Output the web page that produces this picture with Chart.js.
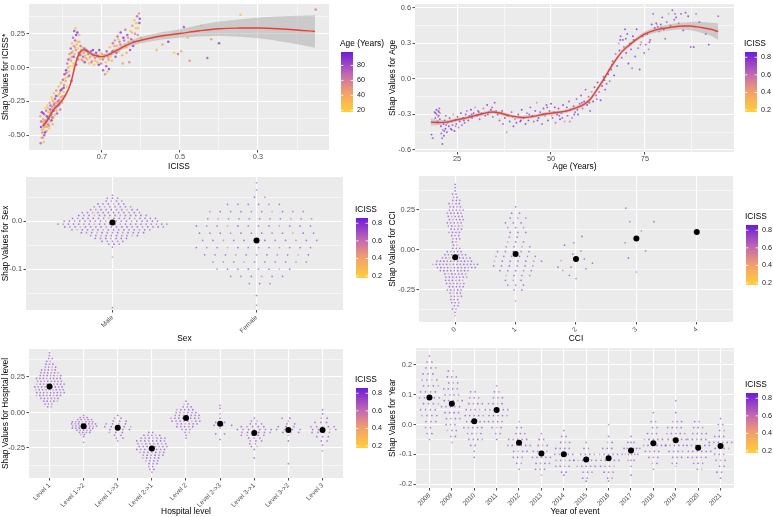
<!DOCTYPE html>
<html>
<head>
<meta charset="utf-8">
<script src="https://cdn.jsdelivr.net/npm/chart.js@4.4.1/dist/chart.umd.min.js"></script>
<style>
  body { margin: 0; background: #fff; width: 773px; height: 517px; position: relative; overflow: hidden; }
  canvas { position: absolute; }
</style>
</head>
<body>
<canvas id="pIciss" width="386" height="172" style="left:0;top:0"></canvas>
<canvas id="pAge" width="386" height="172" style="left:387px;top:0"></canvas>
<canvas id="pSex" width="386" height="172" style="left:0;top:172px"></canvas>
<canvas id="pCci" width="386" height="172" style="left:387px;top:172px"></canvas>
<canvas id="pHosp" width="386" height="173" style="left:0;top:344px"></canvas>
<canvas id="pYear" width="386" height="173" style="left:387px;top:344px"></canvas>
<script>
// ---- data ----
// panel 1: ICISS vs shap, coloured by age
const icissPoints = [
  [0.857,-0.56],[0.855,-0.52],[0.853,-0.48],[0.856,-0.44],[0.852,-0.40],[0.858,-0.36],[0.854,-0.33],[0.850,-0.46],
  [0.849,-0.42],[0.851,-0.38],[0.848,-0.50],[0.846,-0.44],[0.847,-0.35],[0.845,-0.30],[0.843,-0.40],[0.842,-0.47],
  [0.841,-0.36],[0.840,-0.28],[0.838,-0.42],[0.837,-0.33],[0.836,-0.38],[0.835,-0.45],[0.834,-0.26],[0.833,-0.31],
  [0.832,-0.40],[0.830,-0.35],[0.829,-0.22],[0.828,-0.29],[0.827,-0.37],[0.826,-0.42],[0.825,-0.25],[0.824,-0.32],
  [0.823,-0.19],[0.822,-0.28],[0.821,-0.35],[0.820,-0.23],[0.818,-0.30],[0.817,-0.17],[0.816,-0.26],[0.815,-0.34],
  [0.814,-0.21],[0.812,-0.28],[0.811,-0.14],[0.810,-0.24],[0.808,-0.19],[0.807,-0.31],[0.806,-0.12],[0.805,-0.22],
  [0.803,-0.16],[0.802,-0.26],[0.800,-0.09],[0.799,-0.18],[0.797,-0.13],[0.796,-0.05],[0.795,-0.21],[0.793,-0.10],
  [0.792,-0.02],[0.790,-0.14],[0.789,0.03],[0.788,-0.07],[0.786,0.06],[0.785,-0.03],[0.783,0.10],[0.782,0.01],
  [0.780,0.14],[0.779,0.05],[0.778,-0.10],[0.777,0.18],[0.776,0.08],[0.775,0.12],[0.774,0.22],[0.773,0.03],
  [0.772,0.16],[0.771,0.27],[0.770,0.10],[0.769,0.20],[0.768,0.29],[0.767,0.13],[0.766,0.24],[0.765,0.17],
  [0.764,0.07],[0.763,0.26],[0.762,0.14],[0.760,0.11],[0.758,0.19],[0.756,0.09],[0.754,0.13],[0.752,0.06],
  [0.750,0.15],[0.748,0.08],[0.746,0.11],[0.744,0.04],[0.742,0.09],[0.740,0.13],[0.738,0.06],[0.735,0.10],
  [0.733,0.03],[0.730,0.08],[0.728,0.12],[0.725,0.05],[0.722,0.09],[0.720,0.02],[0.718,0.07],[0.715,0.11],
  [0.712,0.04],[0.710,0.08],[0.707,0.13],[0.705,0.06],[0.702,0.03],[0.700,0.10],[0.697,-0.02],[0.695,0.07],
  [0.692,-0.05],[0.690,0.04],[0.688,0.12],[0.685,0.08],[0.682,-0.01],[0.680,0.15],[0.677,0.10],[0.675,0.05],
  [0.672,0.18],[0.670,0.13],[0.667,0.20],[0.665,0.08],[0.662,0.16],[0.660,0.23],[0.657,0.12],[0.655,0.19],
  [0.652,0.26],[0.650,0.15],[0.647,0.03],[0.645,0.22],[0.642,0.17],[0.640,0.28],[0.637,0.11],[0.635,0.24],
  [0.632,0.19],[0.630,0.04],[0.627,0.27],[0.625,0.21],[0.622,0.31],[0.620,0.16],[0.617,0.35],[0.615,0.25],
  [0.612,0.33],[0.610,0.38],[0.607,0.29],[0.605,0.40],[0.603,0.36],[0.600,0.22],
  [0.856,-0.40],[0.854,-0.46],[0.852,-0.52],[0.850,-0.34],[0.849,-0.55],[0.847,-0.39],[0.846,-0.48],[0.844,-0.43],
  [0.843,-0.32],[0.841,-0.44],[0.839,-0.37],[0.838,-0.30],[0.836,-0.43],[0.834,-0.36],[0.832,-0.28],[0.831,-0.33],
  [0.829,-0.39],[0.827,-0.24],[0.826,-0.31],[0.824,-0.37],[0.823,-0.27],[0.821,-0.30],[0.819,-0.26],[0.818,-0.21],
  [0.816,-0.32],[0.813,-0.25],[0.811,-0.20],[0.809,-0.27],[0.806,-0.17],[0.804,-0.11],[0.801,-0.21],[0.798,-0.15],
  [0.795,-0.08],[0.791,-0.04],[0.787,0.00],[0.784,-0.06],[0.781,0.07],[0.778,0.11],[0.775,0.01],[0.772,0.08],
  [0.769,0.15],[0.766,0.02],[0.763,0.19],[0.761,0.06],[0.758,0.24],[0.755,0.16],[0.752,0.10],[0.749,0.05],
  [0.745,0.14],[0.741,0.07],[0.737,0.12],[0.732,0.07],[0.727,0.04],[0.723,0.13],[0.717,0.05],[0.713,0.09],
  [0.708,0.02],[0.703,0.11],[0.698,0.06],[0.694,0.09],[0.689,0.01],[0.686,-0.03],[0.683,0.06],[0.678,0.08],
  [0.673,0.12],[0.668,0.16],[0.663,0.11],[0.658,0.21],[0.653,0.17],[0.648,0.09],[0.643,0.20],[0.638,0.15],
  [0.633,0.22],[0.628,0.13],[0.623,0.26],[0.618,0.19],[0.613,0.29],[0.608,0.24],[0.604,0.33],
  [0.560,0.13],[0.545,0.17],[0.530,0.19],[0.515,0.11],[0.505,0.10],[0.497,0.12],[0.490,0.30],[0.480,0.22],
  [0.475,0.05],[0.445,0.31],[0.430,0.07],[0.420,0.21],[0.400,0.18],[0.345,0.39],[0.152,0.43]
];
const ageCycle = [72, 25, 58, 88, 34, 45, 91, 22, 66, 40, 80, 30, 55, 19, 77, 48, 85, 27, 62, 36, 70, 24, 52, 83, 41];
const icissFitX = [0.852,0.84,0.825,0.81,0.799,0.79,0.782,0.775,0.769,0.762,0.756,0.75,0.744,0.735,0.726,0.715,
  0.705,0.695,0.68,0.66,0.64,0.62,0.58,0.54,0.50,0.45,0.40,0.35,0.30,0.25,0.20,0.154];
const icissFitY = [-0.434,-0.39,-0.316,-0.27,-0.23,-0.185,-0.132,-0.06,0.015,0.08,0.113,0.128,0.13,0.117,0.10,0.088,
  0.081,0.083,0.10,0.13,0.16,0.186,0.215,0.237,0.252,0.272,0.287,0.292,0.292,0.287,0.278,0.267];
const icissFitSe = [0.03,0.025,0.02,0.018,0.018,0.018,0.02,0.022,0.022,0.02,0.018,0.016,0.015,0.015,0.015,0.015,
  0.015,0.015,0.016,0.018,0.02,0.022,0.025,0.028,0.032,0.042,0.053,0.064,0.076,0.09,0.105,0.12];

// panel 2: age vs shap, coloured by ICISS
const agePoints = [
  [18.2,-0.47],[18.5,-0.50],[19.0,-0.28],[19.2,-0.33],[19.5,-0.26],[19.6,-0.30],[19.8,-0.36],[20.0,-0.27],
  [20.1,-0.31],[20.3,-0.25],[20.4,-0.34],[20.5,-0.29],[20.7,-0.40],[20.8,-0.46],[21.0,-0.50],[21.1,-0.55],
  [21.2,-0.43],[21.4,-0.38],[21.5,-0.48],[21.7,-0.35],[21.9,-0.42],[22.0,-0.31],[22.3,-0.45],[22.5,-0.37],
  [22.8,-0.40],[23.0,-0.33],[23.3,-0.42],[23.5,-0.36],[23.8,-0.39],[24.0,-0.30],[24.3,-0.44],[24.5,-0.35],
  [24.8,-0.38],[25.1,-0.32],[25.4,-0.41],[25.7,-0.36],[26.0,-0.29],[26.3,-0.39],[26.6,-0.33],[27.0,-0.37],
  [27.3,-0.30],[27.6,-0.27],[28.0,-0.35],[28.3,-0.31],[28.7,-0.26],[29.0,-0.33],[29.4,-0.29],[29.8,-0.24],
  [30.2,-0.31],[30.6,-0.27],[31.0,-0.34],[31.5,-0.29],[32.0,-0.25],[32.5,-0.31],[33.0,-0.22],[33.5,-0.28],
  [34.0,-0.26],[34.5,-0.32],[35.0,-0.20],[35.4,-0.27],[35.8,-0.30],[36.3,-0.35],[36.8,-0.29],[37.2,-0.38],
  [37.7,-0.33],[38.2,-0.45],[38.6,-0.31],[39.0,-0.36],[39.5,-0.28],[40.0,-0.40],[40.4,-0.34],[40.8,-0.37],
  [41.3,-0.30],[41.8,-0.36],[42.2,-0.26],[42.7,-0.33],[43.2,-0.38],[43.6,-0.29],[44.0,-0.35],[44.5,-0.24],
  [45.0,-0.31],[45.4,-0.36],[45.8,-0.27],[46.2,-0.20],[46.7,-0.33],[47.1,-0.28],[47.6,-0.38],[48.0,-0.25],
  [48.4,-0.31],[48.8,-0.22],[49.2,-0.35],[49.6,-0.27],[50.0,-0.21],[50.4,-0.33],[50.8,-0.28],[51.2,-0.37],
  [51.6,-0.30],[52.0,-0.25],[52.4,-0.34],[52.8,-0.29],[53.2,-0.22],[53.6,-0.36],[54.0,-0.27],[54.4,-0.31],
  [54.8,-0.19],[55.2,-0.26],[55.6,-0.33],[56.0,-0.23],[56.4,-0.28],[56.8,-0.17],[57.2,-0.30],[57.6,-0.21],
  [58.0,-0.14],[58.4,-0.25],[58.8,-0.19],[59.2,-0.09],[59.6,-0.22],[60.0,-0.15],[60.4,-0.27],[60.8,-0.11],
  [61.2,-0.19],[61.6,-0.07],[62.0,-0.14],[62.4,-0.03],[62.8,-0.11],[63.2,-0.18],[63.6,-0.06],[64.0,0.02],
  [64.4,-0.09],[64.8,-0.04],[65.2,0.04],[65.6,-0.02],[66.0,0.08],[66.4,0.15],[66.8,0.03],[67.2,0.21],
  [67.6,0.11],[68.0,0.30],[68.2,0.24],[68.5,0.36],[68.8,0.18],[69.1,0.33],[69.4,0.27],[69.7,0.42],
  [70.0,0.22],[70.3,0.38],[70.6,0.13],[71.0,0.30],[71.3,0.25],[71.6,0.09],[72.0,0.33],[72.4,0.19],
  [72.8,0.42],[73.2,0.26],[73.6,0.08],[74.0,0.31],[74.4,0.36],[74.8,0.22],[75.2,0.29],[75.6,0.38],
  [76.0,0.25],[76.4,0.33],[76.8,0.46],[77.2,0.55],[77.6,0.43],[78.0,0.47],[78.4,0.44],[78.8,0.40],
  [79.2,0.46],[79.6,0.52],[80.0,0.42],[80.4,0.34],[80.8,0.48],[81.3,0.55],[81.8,0.45],[82.3,0.58],
  [82.8,0.50],[83.3,0.52],[84.0,0.47],[84.6,0.55],[85.2,0.41],[85.8,0.56],[86.5,0.53],[87.2,0.27],
  [88.0,0.27],[88.6,0.55],[89.5,0.48],[91.2,0.38],[92.0,0.29],[94.5,0.53],
  [19.3,-0.29],[19.9,-0.32],[20.2,-0.28],[21.6,-0.44],[22.1,-0.39],[23.6,-0.43],[24.6,-0.40],[26.8,-0.35],
  [28.9,-0.30],[30.8,-0.28],[33.2,-0.30],[34.3,-0.24],[37.0,-0.27],[39.8,-0.32],[42.0,-0.35],[44.2,-0.30],
  [46.4,-0.35],[47.8,-0.30],[49.0,-0.24],[50.2,-0.31],[51.0,-0.24],[52.2,-0.31],[53.0,-0.33],[54.2,-0.24],
  [55.0,-0.36],[56.2,-0.30],[57.0,-0.26],[58.2,-0.20],[60.2,-0.20],[62.2,-0.17],[64.2,-0.01],[66.2,0.12],
  [68.4,0.33],[69.9,0.34],[71.8,0.36],[73.8,0.29],[76.2,0.31],[78.2,0.46],[79.4,0.43],[83.0,0.55]
];
const icissCycle = [0.82, 0.79, 0.85, 0.74, 0.81, 0.66, 0.83, 0.77, 0.86, 0.71, 0.8, 0.52, 0.84, 0.78, 0.75, 0.83, 0.62, 0.8];
const ageFitX = [18,20,22,25,28,31,34,36,39,42,45,48,51,54,57,59,60.5,62,63.5,65,67,69,71,73,75,78,81,84,87,90,92.5,94.5];
const ageFitY = [-0.365,-0.368,-0.365,-0.345,-0.325,-0.30,-0.28,-0.285,-0.31,-0.325,-0.318,-0.298,-0.285,-0.272,
  -0.24,-0.21,-0.17,-0.10,-0.03,0.05,0.15,0.235,0.29,0.34,0.38,0.415,0.432,0.445,0.447,0.435,0.42,0.40];
const ageFitSe = [0.03,0.022,0.018,0.015,0.015,0.015,0.015,0.015,0.015,0.015,0.015,0.015,0.015,0.015,0.016,0.017,
  0.018,0.018,0.018,0.018,0.018,0.018,0.018,0.018,0.02,0.022,0.025,0.028,0.035,0.045,0.055,0.07];

// panel 3: sex  (rows: [shap value, number of points])
const sexLabels = ['Male', 'Female'];
const sexRows = [
  [[0.054,1],[0.048,3],[0.042,4],[0.036,6],[0.030,8],[0.024,10],[0.018,12],[0.012,14],[0.006,17],[0.000,19],
   [-0.006,22],[-0.012,20],[-0.018,16],[-0.024,13],[-0.030,10],[-0.036,7],[-0.042,5],[-0.048,3],[-0.054,1],[-0.075,1],[-0.18,1]],
  [[0.08,1],[0.065,1],[0.05,2],[0.035,6],[0.02,10],[0.005,11],[-0.01,12],[-0.025,12],[-0.04,12],[-0.055,12],[-0.07,11],
   [-0.085,10],[-0.10,8],[-0.115,6],[-0.13,3],[-0.155,1],[-0.175,1]]
];
const sexSpacing = [0.036, 0.072];
const sexMeans = [-0.003, -0.04];

// panel 4: CCI
const cciLabels = ['0', '1', '2', '3', '4'];
const cciRows = [
  [[0.41,1],[0.39,1],[0.37,1],[0.35,2],[0.33,2],[0.31,3],[0.29,4],[0.27,4],[0.25,5],[0.23,5],[0.21,5],[0.19,5],[0.17,5],
   [0.15,5],[0.13,4],[0.11,4],[0.09,3],[0.07,3],[0.05,2],[0.03,2],[0.01,3],[-0.01,5],[-0.03,7],[-0.05,9],[-0.07,11],
   [-0.09,14],[-0.11,12],[-0.13,9],[-0.15,7],[-0.17,7],[-0.19,6],[-0.21,6],[-0.23,5],[-0.25,5],[-0.27,4],[-0.29,4],
   [-0.31,3],[-0.33,3],[-0.35,2],[-0.37,2],[-0.39,1],[-0.41,1]],
  [[0.27,1],[0.23,2],[0.20,3],[0.17,3],[0.14,3],[0.11,3],[0.08,2],[0.05,3],[0.02,4],[-0.01,5],[-0.04,6],[-0.07,7],
   [-0.10,6],[-0.13,5],[-0.16,4],[-0.19,3],[-0.22,3],[-0.25,2],[-0.32,1]],
  [], [], []
];
const cciSpacing = [0.057, 0.13, 0, 0, 0];
// sparse groups: [category, jitter, shap]
const cciSparse = [
  [2,0.098,0.085],[2,-0.038,0.045],[2,-0.19,0.03],[2,0.082,-0.006],[2,-0.055,-0.026],[2,-0.246,-0.067],[2,0.137,-0.057],
  [2,0.273,-0.083],[2,-0.082,-0.108],[2,-0.30,-0.108],[2,-0.219,-0.128],[2,0.164,-0.118],[2,-0.109,-0.159],[2,0,-0.179],
  [3,-0.175,0.262],[3,-0.109,0.177],[3,0.29,0.177],[3,0.082,0.12],[3,-0.186,0.045],[3,0.153,-0.006],[3,-0.131,-0.05],[3,0,-0.138],
  [4,0,0.11]
];
const cciMeans = [-0.045, -0.025, -0.057, 0.071, 0.112];

// panel 5: hospital level
const hospLabels = ['Level 1', 'Level 1->2', 'Level 1->3', 'Level 2->1', 'Level 2', 'Level 2->3', 'Level 3->1', 'Level 3->2', 'Level 3'];
const hospRows = [
  [[0.42,1],[0.40,1],[0.38,2],[0.36,2],[0.34,3],[0.32,4],[0.30,5],[0.28,6],[0.26,7],[0.24,8],[0.22,8],[0.20,9],[0.18,9],
   [0.16,9],[0.14,9],[0.12,8],[0.10,6],[0.08,5],[0.06,3],[0.04,2]],
  [[-0.02,1],[-0.035,3],[-0.05,5],[-0.065,7],[-0.08,8],[-0.095,8],[-0.11,7],[-0.125,5],[-0.14,4],[-0.155,2],[-0.17,1],[-0.21,1]],
  [[-0.02,1],[-0.04,2],[-0.06,3],[-0.08,4],[-0.10,5],[-0.12,4],[-0.14,3],[-0.16,2],[-0.18,2],[-0.20,1]],
  [[-0.14,2],[-0.16,5],[-0.18,7],[-0.20,8],[-0.22,8],[-0.24,8],[-0.26,8],[-0.28,7],[-0.30,6],[-0.32,5],[-0.34,4],[-0.36,3],
   [-0.38,2],[-0.40,2],[-0.42,1]],
  [[0.08,1],[0.06,2],[0.04,3],[0.02,5],[0.00,6],[-0.02,7],[-0.04,8],[-0.06,8],[-0.08,6],[-0.10,5],[-0.12,3],[-0.14,2],[-0.16,1],[-0.18,1]],
  [[0.05,1],[0.03,1],[-0.01,1],[-0.04,1],[-0.07,2],[-0.09,3],[-0.11,1],[-0.15,2],[-0.19,1]],
  [[-0.04,1],[-0.06,2],[-0.08,3],[-0.10,5],[-0.12,7],[-0.14,6],[-0.16,5],[-0.18,3],[-0.20,3],[-0.22,2],[-0.24,2],[-0.26,1],[-0.32,1]],
  [[-0.04,2],[-0.06,1],[-0.08,2],[-0.10,3],[-0.12,4],[-0.14,3],[-0.16,1],[-0.20,1],[-0.36,1]],
  [[0.02,1],[-0.01,1],[-0.04,2],[-0.07,3],[-0.10,5],[-0.12,5],[-0.14,4],[-0.17,3],[-0.20,2],[-0.23,1],[-0.27,1]]
];
const hospSpacing = [0.1, 0.1, 0.19, 0.116, 0.116, 0.26, 0.165, 0.23, 0.17];
const hospMeans = [0.183, -0.096, -0.108, -0.254, -0.038, -0.08, -0.145, -0.124, -0.124];

// panel 6: year of event
const yearLabels = ['2008','2009','2010','2011','2012','2013','2014','2015','2016','2017','2018','2019','2020','2021'];
const yearRows = [
  [[0.23,1],[0.21,2],[0.19,3],[0.17,3],[0.15,4],[0.13,4],[0.11,4],[0.09,5],[0.07,4],[0.05,4],[0.03,4],[0.01,3],[-0.01,2],[-0.03,2],[-0.05,1]],
  [[0.18,2],[0.16,3],[0.14,3],[0.12,4],[0.10,4],[0.08,5],[0.06,5],[0.04,4],[0.02,4],[0.00,3],[-0.02,3],[-0.04,2],[-0.06,1]],
  [[0.11,2],[0.09,3],[0.07,4],[0.05,4],[0.03,5],[0.01,5],[-0.01,5],[-0.03,4],[-0.05,4],[-0.07,2],[-0.09,1],[-0.11,1]],
  [[0.13,1],[0.11,2],[0.09,3],[0.07,4],[0.05,6],[0.03,5],[0.01,4],[-0.01,3],[-0.03,2],[-0.05,1]],
  [[0.01,1],[-0.01,2],[-0.03,3],[-0.05,5],[-0.07,6],[-0.09,4],[-0.11,3],[-0.13,2],[-0.15,1]],
  [[-0.03,1],[-0.05,2],[-0.07,3],[-0.09,4],[-0.11,5],[-0.13,4],[-0.15,3],[-0.17,1]],
  [[-0.02,1],[-0.04,2],[-0.06,3],[-0.08,4],[-0.10,5],[-0.12,5],[-0.14,4],[-0.16,2],[-0.17,1]],
  [[-0.06,1],[-0.08,2],[-0.10,4],[-0.12,6],[-0.14,5],[-0.16,3],[-0.18,2],[-0.19,1]],
  [[0.00,1],[-0.04,1],[-0.06,2],[-0.08,3],[-0.10,5],[-0.12,5],[-0.14,4],[-0.16,3],[-0.18,2],[-0.19,1]],
  [[-0.04,1],[-0.06,3],[-0.08,6],[-0.10,6],[-0.12,3],[-0.14,1],[-0.17,1]],
  [[0.04,1],[0.01,2],[-0.01,2],[-0.03,3],[-0.05,5],[-0.07,6],[-0.09,4],[-0.11,3],[-0.13,2],[-0.15,1]],
  [[0.08,1],[0.04,1],[0.01,3],[-0.01,4],[-0.03,5],[-0.05,5],[-0.07,5],[-0.09,4],[-0.11,3],[-0.13,2],[-0.14,1]],
  [[0.01,2],[-0.01,3],[-0.03,4],[-0.05,5],[-0.07,6],[-0.09,6],[-0.11,5],[-0.13,3],[-0.15,2]],
  [[0.02,1],[0.00,2],[-0.02,2],[-0.04,3],[-0.06,6],[-0.08,4],[-0.10,3],[-0.12,3],[-0.14,2],[-0.16,2],[-0.18,1]]
];
const yearSpacing = [0.22, 0.2, 0.2, 0.2, 0.2, 0.2, 0.2, 0.2, 0.2, 0.14, 0.2, 0.2, 0.2, 0.2];
const yearMeans = [0.091, 0.07, 0.011, 0.049, -0.061, -0.097, -0.1, -0.117, -0.113, -0.087, -0.063, -0.053, -0.078, -0.072];

// ---- helpers ----
const FAMILY = '"Liberation Sans", Arial, Helvetica, sans-serif';
Chart.defaults.font.family = FAMILY;
const TITLE_SIZE = 8.4;

const gradStops = [[0, [255, 207, 58]], [0.33, [242, 160, 106]], [0.62, [196, 106, 176]], [1, [108, 28, 217]]];
function gradColor(t, a) {
  t = Math.max(0, Math.min(1, t));
  for (let i = 1; i < gradStops.length; i++) {
    const [t1, c1] = gradStops[i];
    const [t0, c0] = gradStops[i - 1];
    if (t <= t1) {
      const f = (t - t0) / (t1 - t0);
      const c = c0.map((v, k) => Math.round(v + (c1[k] - v) * f));
      return `rgba(${c[0]},${c[1]},${c[2]},${a})`;
    }
  }
  return `rgba(108,28,217,${a})`;
}

function near(v, step) {
  const q = v / step;
  return Math.abs(q - Math.round(q)) < 1e-6;
}

function axis(o) {
  const horiz = o.pos === 'x';
  const off = o.offset || 0;
  const isMajor = v => near(v - off, o.major);
  const major = c => !!c.tick && isMajor(c.tick.value);
  return {
    type: 'linear',
    position: horiz ? 'bottom' : 'left',
    min: o.min, max: o.max, reverse: !!o.reverse,
    ticks: {
      stepSize: o.minor, includeBounds: false, autoSkip: false,
      maxRotation: o.rot || 0, minRotation: o.rot || 0,
      color: '#4D4D4D', font: { size: o.rot ? 6.6 : 7.4 }, padding: o.rot ? 1 : (horiz ? 0.5 : 1.5),
      callback: o.labels
        ? (v => o.labels[Math.round(v)] || '')
        : (v => isMajor(v) ? (Math.round(v * 1e6) / 1e6).toFixed(o.dec) : '')
    },
    grid: {
      color: '#FFFFFF',
      lineWidth: c => major(c) ? 1.1 : 0.55,
      tickLength: 2.5, tickWidth: 0.9,
      tickColor: c => major(c) ? '#333333' : 'rgba(0,0,0,0)'
    },
    border: { display: false },
    title: { display: true, text: o.title, color: '#000', font: { size: TITLE_SIZE }, padding: horiz ? { top: 0, bottom: 0.6 } : { top: 1, bottom: 0 } },
    afterFit: s => {
      if (horiz) s.height = o.size; else s.width = o.size;
      s.paddingLeft = s.paddingRight = s.paddingTop = s.paddingBottom = 0;
    }
  };
}

const panelBg = {
  id: 'panelBg',
  beforeDraw(chart) {
    const { ctx, chartArea: a } = chart;
    ctx.save();
    ctx.fillStyle = '#EBEBEB';
    ctx.fillRect(a.left, a.top, a.width, a.height);
    ctx.restore();
  }
};

// ggplot style colour bar at the right of each panel
const colorbar = {
  id: 'colorbar',
  afterDraw(chart, args, o) {
    if (!o || !o.title) return;
    const ctx = chart.ctx;
    const w = 12, h = 60;
    ctx.save();
    ctx.font = TITLE_SIZE + 'px ' + FAMILY;
    ctx.fillStyle = '#000';
    ctx.textBaseline = 'middle';
    ctx.textAlign = 'left';
    ctx.fillText(o.title, o.x - 1, o.top - 8);
    const g = ctx.createLinearGradient(0, o.top + h, 0, o.top);
    gradStops.forEach(s => g.addColorStop(s[0], `rgb(${s[1].join(',')})`));
    ctx.fillStyle = g;
    ctx.fillRect(o.x, o.top, w, h);
    ctx.font = '7.2px ' + FAMILY;
    ctx.strokeStyle = '#fff';
    ctx.lineWidth = 0.8;
    o.ticks.forEach(v => {
      const y = o.top + h - (v - o.min) / (o.max - o.min) * h;
      ctx.beginPath();
      ctx.moveTo(o.x, y); ctx.lineTo(o.x + 2.4, y);
      ctx.moveTo(o.x + w - 2.4, y); ctx.lineTo(o.x + w, y);
      ctx.stroke();
      ctx.fillStyle = '#1A1A1A';
      ctx.fillText(v.toFixed(o.dec), o.x + w + 4, y);
    });
    ctx.restore();
  }
};

function makeChart(id, datasets, xAx, yAx, pad, bar) {
  return new Chart(document.getElementById(id), {
    type: 'scatter',
    data: { datasets },
    options: {
      responsive: false, animation: false, events: [],
      layout: { padding: pad },
      scales: { x: xAx, y: yAx },
      plugins: { legend: { display: false }, tooltip: { enabled: false }, colorbar: bar }
    },
    plugins: [panelBg, colorbar]
  });
}

function fitSets(xs, ys, se) {
  return [
    { data: xs.map((x, i) => ({ x, y: ys[i] })), showLine: true, borderColor: '#F03C30', borderWidth: 1.4,
      pointRadius: 0, tension: 0.35, fill: false },
    { data: xs.map((x, i) => ({ x, y: ys[i] + se[i] })), showLine: true, borderColor: 'rgba(0,0,0,0)', borderWidth: 0,
      pointRadius: 0, tension: 0.35, fill: '+1', backgroundColor: 'rgba(153,153,153,0.4)' },
    { data: xs.map((x, i) => ({ x, y: ys[i] - se[i] })), showLine: true, borderColor: 'rgba(0,0,0,0)', borderWidth: 0,
      pointRadius: 0, tension: 0.35, fill: false }
  ];
}

// lay each row of a swarm out side by side, staggering rows so columns do not line up
function swarmSets(rowsByCat, spacing, means, sparse) {
  const pts = [];
  rowsByCat.forEach((rows, cat) => {
    rows.forEach(([y, n], r) => {
      const shift = ((r % 3) - 1) * 0.3 * spacing[cat];
      for (let k = 0; k < n; k++) pts.push({ x: cat + (k - (n - 1) / 2) * spacing[cat] + (n > 1 ? shift : 0), y });
    });
  });
  (sparse || []).forEach(([cat, dx, y]) => pts.push({ x: cat + dx, y }));
  const cols = pts.map((p, i) => gradColor((icissCycle[i % icissCycle.length] - 0.177) / (0.86 - 0.177), 0.6));
  return [
    { data: means.map((y, i) => ({ x: i, y })), pointRadius: 3, pointBackgroundColor: '#000', pointBorderWidth: 0 },
    { data: pts, pointRadius: 0.85, pointBackgroundColor: cols, pointBorderWidth: 0 }
  ];
}

const icissBar = { title: 'ICISS', ticks: [0.2, 0.4, 0.6, 0.8], min: 0.177, max: 0.86, dec: 1 };

// ---- panel 1 ----
makeChart('pIciss',
  [...fitSets(icissFitX, icissFitY, icissFitSe),
   { data: icissPoints.map(([x, y]) => ({ x, y })), pointRadius: 1.25, pointBorderWidth: 0,
     pointBackgroundColor: icissPoints.map((p, i) => gradColor((ageCycle[i % ageCycle.length] - 17.7) / (98 - 17.7), 0.8)) }],
  axis({ pos: 'x', min: 0.118, max: 0.887, reverse: true, minor: 0.1, major: 0.2, offset: 0.1, dec: 1, title: 'ICISS', size: 22 }),
  axis({ pos: 'y', min: -0.61, max: 0.47, minor: 0.125, major: 0.25, dec: 2, title: 'Shap Values for ICISS*', size: 29 }),
  { left: 0, top: 3, right: 57, bottom: 0 },
  { title: 'Age (Years)', x: 341, top: 52, ticks: [20, 40, 60, 80], min: 17.7, max: 98, dec: 0 });

// ---- panel 2 ----
makeChart('pAge',
  [...fitSets(ageFitX, ageFitY, ageFitSe),
   { data: agePoints.map(([x, y]) => ({ x, y })), pointRadius: 0.95, pointBorderWidth: 0,
     pointBackgroundColor: agePoints.map((p, i) => gradColor((icissCycle[i % icissCycle.length] - 0.177) / (0.86 - 0.177), 0.75)) }],
  axis({ pos: 'x', min: 13.8, max: 98.7, minor: 12.5, major: 25, dec: 0, title: 'Age (Years)', size: 20 }),
  axis({ pos: 'y', min: -0.617, max: 0.633, minor: 0.15, major: 0.3, dec: 1, title: 'Shap Values for Age', size: 28 }),
  { left: 0, top: 3, right: 39, bottom: 0 },
  Object.assign({ x: 358, top: 52 }, icissBar));

// ---- panel 3 ----
makeChart('pSex',
  swarmSets(sexRows, sexSpacing, sexMeans),
  axis({ pos: 'x', min: -0.6, max: 1.6, minor: 1, major: 1, labels: sexLabels, rot: 45, title: 'Sex', size: 34 }),
  axis({ pos: 'y', min: -0.185, max: 0.092, minor: 0.05, major: 0.1, dec: 1, title: 'Shap Values for Sex', size: 26 }),
  { left: 0, top: 5, right: 43, bottom: 0 },
  Object.assign({ x: 356, top: 46 }, icissBar));

// ---- panel 4 ----
makeChart('pCci',
  swarmSets(cciRows, cciSpacing, cciMeans, cciSparse),
  axis({ pos: 'x', min: -0.6, max: 4.6, minor: 1, major: 1, labels: cciLabels, rot: 45, title: 'CCI', size: 22 }),
  axis({ pos: 'y', min: -0.451, max: 0.463, minor: 0.125, major: 0.25, dec: 2, title: 'Shap Values for CCI', size: 32 }),
  { left: 0, top: 1, right: 40, bottom: 0 },
  Object.assign({ x: 359, top: 53 }, icissBar));

// ---- panel 5 ----
makeChart('pHosp',
  swarmSets(hospRows, hospSpacing, hospMeans),
  axis({ pos: 'x', min: -0.6, max: 8.6, minor: 1, major: 1, labels: hospLabels, rot: 45, title: 'Hospital level', size: 39 }),
  axis({ pos: 'y', min: -0.461, max: 0.447, minor: 0.125, major: 0.25, dec: 2, title: 'Shap Values for Hospital level', size: 29 }),
  { left: 0, top: 5, right: 43, bottom: 0 },
  Object.assign({ x: 356, top: 44 }, icissBar));

// ---- panel 6 ----
makeChart('pYear',
  swarmSets(yearRows, yearSpacing, yearMeans),
  axis({ pos: 'x', min: -0.6, max: 13.6, minor: 1, major: 1, labels: yearLabels, rot: 45, title: 'Year of event', size: 29 }),
  axis({ pos: 'y', min: -0.213, max: 0.257, minor: 0.05, major: 0.1, dec: 1, title: 'Shap Values for Year', size: 29 }),
  { left: 0, top: 4, right: 39, bottom: 0 },
  Object.assign({ x: 359, top: 49 }, icissBar));
</script>
</body>
</html>
